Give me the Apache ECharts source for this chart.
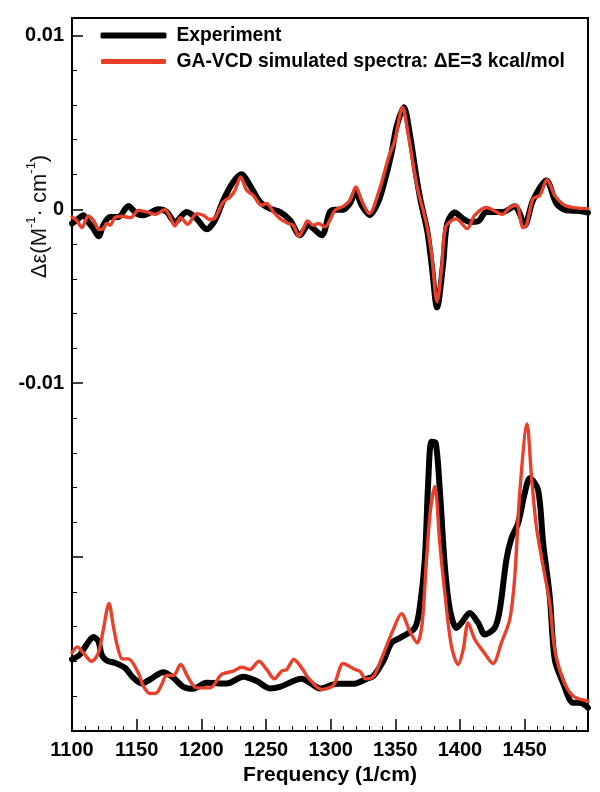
<!DOCTYPE html>
<html><head><meta charset="utf-8">
<style>html,body{margin:0;padding:0;background:#fff}#c{width:600px;height:792px}</style>
<script src="https://cdn.jsdelivr.net/npm/echarts@6/dist/echarts.min.js"></script>
</head><body><div id="c"></div>
<script>
// Frequencies in 1/cm, values in units of 0.001 M^-1 cm^-1
const expTopFreq=[1100,1103.6,1108.8,1112.6,1116.5,1120.6,1124.2,1129.4,1135.8,1143.6,1150,1155.2,1166.8,1173.2,1179.6,1188.7,1196.4,1204.1,1210.6,1217,1224.7,1231.2,1237.6,1245.4,1253,1260.8,1268.6,1276.3,1282.7,1293,1299.4,1303.3,1309.7,1314.9,1319.5,1323.9,1330.3,1336.8,1341.9,1347,1350.9,1356.6,1361.2,1365.9,1369.5,1374.6,1378,1382.3,1387,1390.1,1396,1402.4,1407.6,1414,1420.5,1433.4,1442.4,1446.2,1450.1,1456.5,1466.8,1474.6,1482.3,1492.6,1499];
const expTopVal=[-0.82,-0.63,-0.34,-0.73,-1.11,-1.55,-0.92,-0.44,-0.44,0.19,-0.25,-0.34,0,-0.15,-0.73,-0.15,-0.54,-1.15,-0.63,0.52,1.57,2.01,1.38,0.42,0.04,-0.15,-0.63,-1.49,-0.92,-1.49,-0.15,-0.02,-0.02,0.33,1.0,0.23,-0.34,0.42,1.66,3.2,4.73,5.87,4.34,2.05,0.52,-1.21,-3.12,-5.64,-3.12,-0.82,-0.19,-0.54,-0.73,-0.69,-0.15,-0.15,0.17,-0.25,-0.92,0.52,1.66,0.33,-0.06,-0.1,-0.19];
const simTopFreq=[1100,1103.6,1107.7,1112.6,1116.5,1121.1,1124.2,1126.8,1129.4,1133.2,1138.4,1145.4,1151.3,1157.7,1164.2,1171.9,1175.8,1179.6,1184,1189.4,1196.4,1201.5,1206.7,1210.6,1217,1222.2,1226,1230.4,1235,1240.2,1246.6,1250.5,1255.7,1260.8,1267.3,1271.1,1275.5,1278.9,1282.2,1286.6,1290.5,1295.6,1299.4,1303.3,1309.7,1314.9,1319.5,1323.9,1329.8,1338,1344.5,1349.6,1355.6,1359.9,1366.9,1374.1,1378,1382.3,1385.7,1389,1397.3,1405.5,1411.5,1420.5,1432.8,1438.5,1443.7,1448.8,1451.4,1456.5,1461.7,1467.4,1473.3,1481,1490,1499];
const simTopVal=[-0.44,-0.63,-1.05,-0.38,-0.63,-1.17,-1.11,-0.82,-0.92,-0.48,-0.40,-0.48,-0.06,-0.15,-0.29,-0.02,-0.44,-0.96,-0.48,-0.86,-0.25,-0.34,-0.59,-0.48,0.42,0.71,1.09,1.86,1.09,0.80,0.23,0.33,-0.15,-0.54,-0.82,-0.92,-1.55,-1.11,-0.67,-0.92,-0.82,-1.01,-0.63,-0.06,0.17,0.52,1.28,0.52,-0.25,1.19,2.91,3.96,5.87,4.34,1.28,-0.82,-2.54,-5.32,-3.5,-1.01,-0.54,-1.11,-0.34,0.1,-0.29,0.1,0.23,-1.05,-0.92,0.61,0.8,1.7,0.8,0.23,0.08,0.04];
const expLowFreq=[1100,1106.2,1111.3,1116.5,1120.4,1122.9,1126.8,1133.2,1141,1147.4,1153.9,1160.3,1170.6,1178.4,1186.1,1193.8,1204.1,1219.6,1232.5,1242.8,1253.1,1260.8,1277.6,1284,1291.8,1304.6,1317.5,1327.8,1332.9,1340.6,1347.1,1353.5,1365.1,1369,1372.8,1375.4,1378,1381.3,1384.4,1388.3,1392.2,1397.3,1401.2,1407.6,1414,1419.2,1426.9,1430.8,1435.9,1439.8,1445,1450.1,1454,1460.4,1464.3,1469.4,1473.3,1479.7,1487.5,1492.6,1499];
const expLowVal=[-25.89,-25.6,-25.03,-24.59,-24.84,-25.6,-25.95,-26.08,-26.37,-26.94,-27.27,-27.04,-26.62,-26.94,-27.46,-27.57,-27.23,-27.27,-26.88,-27.13,-27.55,-27.46,-27.0,-27.23,-27.55,-27.29,-27.29,-27.0,-26.85,-25.99,-24.93,-24.65,-24.07,-22.83,-20.15,-15.75,-13.36,-13.45,-16.13,-20.53,-23.02,-24.07,-23.78,-23.21,-23.78,-24.45,-24.07,-23.02,-20.15,-18.91,-18.04,-16.32,-15.46,-16.13,-19.19,-22.25,-25.89,-27.23,-28.38,-28.38,-28.66];
const simLowFreq=[1100,1104.1,1108.8,1115.2,1120.4,1124.2,1128.6,1132,1135.1,1138.9,1143.6,1151.3,1155.2,1160.3,1165.5,1169.3,1173.2,1178.4,1184,1189.9,1196.4,1206.7,1215.7,1224.7,1231.2,1237.6,1244.6,1250.5,1256.4,1262.1,1266,1271.6,1277.6,1282.7,1293,1302.1,1309.8,1318.8,1322.6,1327.3,1332.9,1338,1343.2,1348.4,1354.8,1361.2,1366.9,1370.8,1374.1,1377.2,1380.6,1384.4,1388.3,1393.4,1398.6,1402.5,1406.3,1411.5,1417.9,1425.6,1432,1438.5,1442.4,1446.2,1451.9,1455.3,1459.1,1464.3,1469.4,1473.3,1479.7,1487.5,1499];
const simLowVal=[-25.51,-25.16,-25.51,-25.99,-25.51,-24.17,-22.67,-23.98,-25.12,-25.85,-25.85,-26.66,-27.42,-27.84,-27.8,-27.33,-26.81,-26.81,-26.18,-26.94,-27.52,-27.52,-26.75,-26.56,-26.33,-26.46,-25.99,-26.46,-27.0,-26.56,-26.46,-25.89,-26.37,-26.94,-27.61,-27.38,-26.12,-26.46,-26.56,-27.0,-26.88,-26.08,-25.12,-24.17,-23.25,-24.26,-24.93,-23.78,-20.15,-17.28,-15.94,-19.19,-22.06,-25.12,-26.18,-25.32,-23.78,-24.74,-25.41,-26.12,-24.93,-23.59,-21.11,-16.32,-12.34,-15.37,-18.24,-20.53,-22.64,-25.32,-27.04,-27.99,-28.28];
const expName='Experiment';
const simName='GA-VCD simulated spectra: ΔE=3 kcal/mol';
const yLabels={'10':'0.01','0':'0','-10':'-0.01'};

const FONT='"Liberation Sans",Arial,sans-serif';
const pts=(f,v)=>f.map((x,i)=>[x,v[i]/1000]);
const black='#000000', red='#e8402a';
function line(name,data,color,width,z){
  return {name,type:'line',data,symbol:'none',smooth:0.3,clip:true,z,
    lineStyle:{color,width,cap:'round',join:'round'},itemStyle:{color}};
}
const chart=echarts.init(document.getElementById('c'),null,{renderer:'canvas'});
chart.setOption({
  animation:false,backgroundColor:'#fff',
  grid:{left:72,right:12,top:18,bottom:61,show:true,borderColor:'#000',borderWidth:2,backgroundColor:'transparent',outerBoundsMode:'none'},
  legend:{left:95,top:21,orient:'vertical',itemWidth:66,itemHeight:6,itemGap:7,
    data:[{name:expName,icon:'roundRect',itemStyle:{color:black}},
          {name:simName,icon:'roundRect',itemStyle:{color:red,borderColor:'#fff',borderWidth:1}}],
    textStyle:{fontFamily:FONT,fontWeight:'bold',fontSize:19.3,color:'#000',padding:[0,0,0,5]}},
  xAxis:{type:'value',min:1100,max:1499,interval:50,
    name:'Frequency (1/cm)',nameLocation:'middle',nameGap:32,
    nameTextStyle:{fontFamily:FONT,fontWeight:'bold',fontSize:21,color:'#000'},
    splitLine:{show:false},
    axisLine:{show:true,onZero:false,lineStyle:{color:'#000',width:2}},
    axisTick:{show:true,inside:true,length:12,lineStyle:{color:'#000',width:1.5}},
    minorTick:{show:true,splitNumber:5,length:5,lineStyle:{color:'#000',width:1}},
    axisLabel:{margin:9,showMinLabel:true,showMaxLabel:false,fontFamily:FONT,fontWeight:'bold',fontSize:20,color:'#000',
      formatter:v=>v%50===0?String(v):''}},
  yAxis:{type:'value',min:-0.03,max:0.011,interval:0.01,
    name:'{a|Δε(M}{s|-1}{a|· cm}{s|-1}{a|)}',nameLocation:'middle',nameGap:21,nameRotate:90,nameMoveOverlap:false,
    nameTextStyle:{padding:[0,0,0,316],rich:{a:{fontFamily:FONT,fontSize:22,color:'#111',lineHeight:26,verticalAlign:'bottom'},
                         s:{fontFamily:FONT,fontSize:13,color:'#111',lineHeight:26,verticalAlign:'top'}}},
    splitLine:{show:false},
    axisLine:{show:true,onZero:false,lineStyle:{color:'#000',width:2}},
    axisTick:{show:true,inside:true,length:11,lineStyle:{color:'#000',width:1.5}},
    minorTick:{show:true,splitNumber:5,length:5,lineStyle:{color:'#000',width:1}},
    axisLabel:{margin:8,fontFamily:FONT,fontWeight:'bold',fontSize:20,color:'#000',
      formatter:v=>{const k=String(Math.round(v*1000));const m=Math.abs(v*1000-Math.round(v*1000))<1e-6;return m&&yLabels[k]!==undefined?yLabels[k]:'';}}},
  series:[
    line(expName,pts(expTopFreq,expTopVal),black,6,2),
    line(expName,pts(expLowFreq,expLowVal),black,6,2),
    line(simName,pts(simTopFreq,simTopVal),red,3.4,3),
    line(simName,pts(simLowFreq,simLowVal),red,3.4,3)
  ]
});
</script></body></html>
